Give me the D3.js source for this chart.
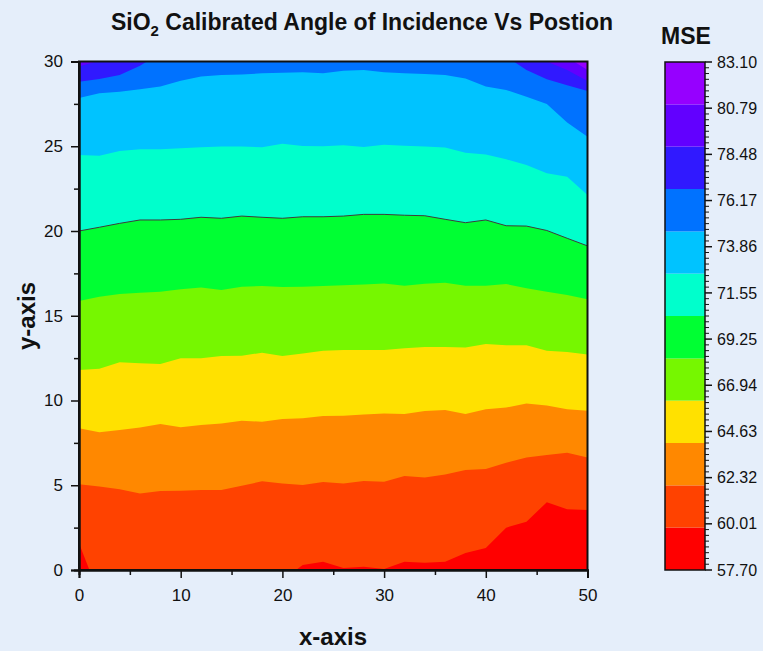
<!DOCTYPE html>
<html>
<head>
<meta charset="utf-8">
<script src="https://cdn.jsdelivr.net/npm/d3@7"></script>
<style>
  html, body { margin: 0; padding: 0; background: #e5eefa; }
  svg { display: block; font-family: "Liberation Sans", Arial, sans-serif; }
</style>
</head>
<body>
<svg id="chart" width="763" height="651"></svg>
<script>
// Sample positions along the x-axis (mm)
const xPositions = [0, 2, 4, 6, 8, 10, 12, 14, 16, 18, 20, 22, 24, 26, 28, 30, 32, 34, 36, 38, 40, 42, 44, 46, 48, 50];

// y position of each MSE contour level along xPositions (values outside 0..30 lie off the plot)
const level1 = [1.58, -1.5, -1, -1, -1, -1, -1, -1, -1, -1, -0.6, 0.3, 0.49, 0.12, 0.19, 0.06, 0.49, 0.43, 0.49, 1.0, 1.3, 2.5, 2.85, 4.0, 3.58, 3.54];
const level2 = [5.06, 4.92, 4.76, 4.52, 4.66, 4.68, 4.72, 4.72, 4.97, 5.23, 5.11, 5.01, 5.19, 5.11, 5.25, 5.21, 5.55, 5.45, 5.64, 5.9, 5.96, 6.33, 6.63, 6.78, 6.92, 6.63];
const level3 = [8.36, 8.12, 8.26, 8.4, 8.61, 8.42, 8.55, 8.65, 8.81, 8.75, 8.91, 8.95, 9.09, 9.1, 9.18, 9.24, 9.2, 9.38, 9.44, 9.2, 9.48, 9.58, 9.83, 9.7, 9.48, 9.4];
const level4 = [11.8, 11.88, 12.25, 12.2, 12.15, 12.49, 12.49, 12.63, 12.64, 12.82, 12.63, 12.78, 12.94, 12.98, 12.98, 12.98, 13.08, 13.16, 13.16, 13.12, 13.33, 13.26, 13.26, 12.94, 12.86, 12.72];
const level5 = [15.87, 16.12, 16.28, 16.36, 16.42, 16.56, 16.66, 16.52, 16.71, 16.76, 16.7, 16.71, 16.76, 16.8, 16.85, 16.91, 16.77, 16.89, 16.95, 16.77, 16.77, 16.87, 16.62, 16.42, 16.22, 15.97];
const level6 = [20.0, 20.22, 20.45, 20.65, 20.65, 20.69, 20.81, 20.75, 20.88, 20.81, 20.75, 20.84, 20.84, 20.88, 20.98, 20.98, 20.93, 20.9, 20.69, 20.49, 20.65, 20.31, 20.29, 20.03, 19.57, 19.12];
const level7 = [24.48, 24.44, 24.72, 24.82, 24.82, 24.88, 24.94, 24.98, 24.98, 24.94, 25.15, 25.01, 25.0, 25.06, 24.96, 25.09, 25.03, 24.98, 24.92, 24.62, 24.52, 24.23, 23.89, 23.4, 23.2, 22.12];
const level8 = [27.85, 28.12, 28.22, 28.36, 28.52, 28.87, 29.11, 29.2, 29.24, 29.3, 29.34, 29.36, 29.3, 29.46, 29.5, 29.36, 29.3, 29.26, 29.2, 29.0, 28.52, 28.32, 27.92, 27.5, 26.4, 25.56];
const level9 = [28.8, 28.97, 29.2, 29.75, 30.5, 30.6, 30.6, 30.6, 30.6, 30.6, 30.6, 30.6, 30.6, 30.6, 30.6, 30.6, 30.6, 30.6, 30.6, 30.6, 30.6, 30.3, 29.5, 28.95, 28.6, 28.26];
const level10 = [29.7, 30.05, 30.6, 30.6, 30.6, 30.6, 30.6, 30.6, 30.6, 30.6, 30.6, 30.6, 30.6, 30.6, 30.6, 30.6, 30.6, 30.6, 30.6, 30.6, 30.6, 30.6, 30.6, 30.0, 29.5, 28.85];
const level11 = [30.6, 30.6, 30.6, 30.6, 30.6, 30.6, 30.6, 30.6, 30.6, 30.6, 30.6, 30.6, 30.6, 30.6, 30.6, 30.6, 30.6, 30.6, 30.6, 30.6, 30.6, 30.6, 30.6, 30.8, 30.25, 29.5];

// MSE band edges and fill colours (lowest to highest)
const mseEdges = [57.70, 59.82, 61.93, 64.05, 66.17, 68.28, 70.40, 72.52, 74.63, 76.75, 78.87, 80.98, 83.10];
const bandColors = ["#ff0000", "#ff4200", "#ff8800", "#ffe100", "#76f700", "#00ff33", "#00ffcc", "#00c3ff", "#0072ff", "#3019ff", "#6200ff", "#9600ff"];
const colorbarLabels = ["57.70", "60.01", "62.32", "64.63", "66.94", "69.25", "71.55", "73.86", "76.17", "78.48", "80.79", "83.10"];

const xTicks = [0, 10, 20, 30, 40, 50];
const yTicks = [0, 5, 10, 15, 20, 25, 30];

const levels = [level1, level2, level3, level4, level5, level6, level7, level8, level9, level10, level11];

const svg = d3.select("#chart");
svg.append("rect").attr("width", 763).attr("height", 651).attr("fill", "#e5eefa");

const plot = { left: 79, right: 587.5, top: 61.5, bottom: 570 };
const x = d3.scaleLinear().domain([0, 50]).range([plot.left, plot.right]);
const y = d3.scaleLinear().domain([0, 30]).range([plot.bottom, plot.top]);

svg.append("defs").append("clipPath").attr("id", "plotClip")
  .append("rect")
  .attr("x", plot.left).attr("y", plot.top)
  .attr("width", plot.right - plot.left).attr("height", plot.bottom - plot.top);

const bands = svg.append("g").attr("clip-path", "url(#plotClip)");

// Lowest band fills the whole plot; each higher band is painted from its lower contour upward
const fullArea = d3.area().x(d => x(d)).y0(y(-2)).y1(y(32));
bands.append("path").datum(xPositions).attr("d", fullArea).attr("fill", bandColors[0]);

levels.forEach((lv, i) => {
  const area = d3.area()
    .x((d, j) => x(xPositions[j]))
    .y0((d, j) => y(lv[j]))
    .y1(y(32));
  bands.append("path").datum(lv).attr("d", area).attr("fill", bandColors[i + 1]);
});

// Contour line on the 71.55 boundary
const line = d3.line().x((d, j) => x(xPositions[j])).y(d => y(d));
bands.append("path").datum(level6).attr("d", line)
  .attr("fill", "none").attr("stroke", "#3d3d3d").attr("stroke-width", 1);

// Frame
svg.append("rect")
  .attr("x", plot.left).attr("y", plot.top)
  .attr("width", plot.right - plot.left).attr("height", plot.bottom - plot.top)
  .attr("fill", "none").attr("stroke", "#111").attr("stroke-width", 2);

// Axes
const xAxis = svg.append("g").attr("transform", `translate(0,${plot.bottom})`)
  .call(d3.axisBottom(x).tickValues(xTicks).tickSize(8).tickPadding(11).tickFormat(d3.format("d")));
const xMinor = svg.append("g").attr("transform", `translate(0,${plot.bottom})`)
  .call(d3.axisBottom(x).tickValues([5, 15, 25, 35, 45]).tickSize(5).tickFormat(""));
const yAxis = svg.append("g").attr("transform", `translate(${plot.left},0)`)
  .call(d3.axisLeft(y).tickValues(yTicks).tickSize(8).tickPadding(8).tickFormat(d3.format("d")));
const yMinor = svg.append("g").attr("transform", `translate(${plot.left},0)`)
  .call(d3.axisLeft(y).tickValues([2.5, 7.5, 12.5, 17.5, 22.5, 27.5]).tickSize(5).tickFormat(""));

[xAxis, xMinor, yAxis, yMinor].forEach(g => {
  g.select(".domain").attr("stroke", "#111").attr("stroke-width", 2);
  g.selectAll(".tick line").attr("stroke", "#111").attr("stroke-width", 1.5);
  g.selectAll(".tick text").attr("font-size", 17).attr("fill", "#111")
    .attr("font-family", "Liberation Sans, Arial, sans-serif");
});

// Titles
const title = svg.append("text").attr("x", 362).attr("y", 30)
  .attr("text-anchor", "middle").attr("font-size", 23).attr("font-weight", "bold").attr("fill", "#111");
title.append("tspan").text("SiO");
title.append("tspan").attr("font-size", 15).attr("dy", 6).text("2");
title.append("tspan").attr("dy", -6).text(" Calibrated Angle of Incidence Vs Postion");

svg.append("text").attr("x", 333).attr("y", 645).attr("text-anchor", "middle")
  .attr("font-size", 24).attr("font-weight", "bold").attr("fill", "#111").text("x-axis");
svg.append("text").attr("transform", "translate(35,316) rotate(-90)").attr("text-anchor", "middle")
  .attr("font-size", 24).attr("font-weight", "bold").attr("fill", "#111").text("y-axis");

// Colour bar
const cb = { left: 665, right: 705, top: 62, bottom: 570 };
const c = d3.scaleLinear().domain([mseEdges[0], mseEdges[mseEdges.length - 1]]).range([cb.bottom, cb.top]);
const cbar = svg.append("g");
bandColors.forEach((col, i) => {
  cbar.append("rect")
    .attr("x", cb.left).attr("width", cb.right - cb.left)
    .attr("y", c(mseEdges[i + 1])).attr("height", c(mseEdges[i]) - c(mseEdges[i + 1]))
    .attr("fill", col);
});
cbar.append("rect").attr("x", cb.left).attr("y", cb.top)
  .attr("width", cb.right - cb.left).attr("height", cb.bottom - cb.top)
  .attr("fill", "none").attr("stroke", "#111").attr("stroke-width", 1.5);

// Colour bar ticks: labelled majors with 8 subdivisions between them
const labelVals = colorbarLabels.map(Number);
const majorPos = labelVals.map((v, i) => cb.bottom - i * (cb.bottom - cb.top) / (labelVals.length - 1));
majorPos.forEach((py, i) => {
  cbar.append("line").attr("x1", cb.right).attr("x2", cb.right + 7)
    .attr("y1", py).attr("y2", py).attr("stroke", "#111").attr("stroke-width", 1.5);
  cbar.append("text").attr("x", cb.right + 12).attr("y", py).attr("dy", "0.35em")
    .attr("font-size", 16).attr("fill", "#111").text(colorbarLabels[i]);
  if (i < majorPos.length - 1) {
    const next = majorPos[i + 1];
    for (let k = 1; k < 8; k++) {
      const my = py + (next - py) * k / 8;
      cbar.append("line").attr("x1", cb.right).attr("x2", cb.right + 4)
        .attr("y1", my).attr("y2", my).attr("stroke", "#111").attr("stroke-width", 1);
    }
  }
});

svg.append("text").attr("x", 686).attr("y", 44).attr("text-anchor", "middle")
  .attr("font-size", 23).attr("font-weight", "bold").attr("fill", "#111").text("MSE");
</script>
</body>
</html>
